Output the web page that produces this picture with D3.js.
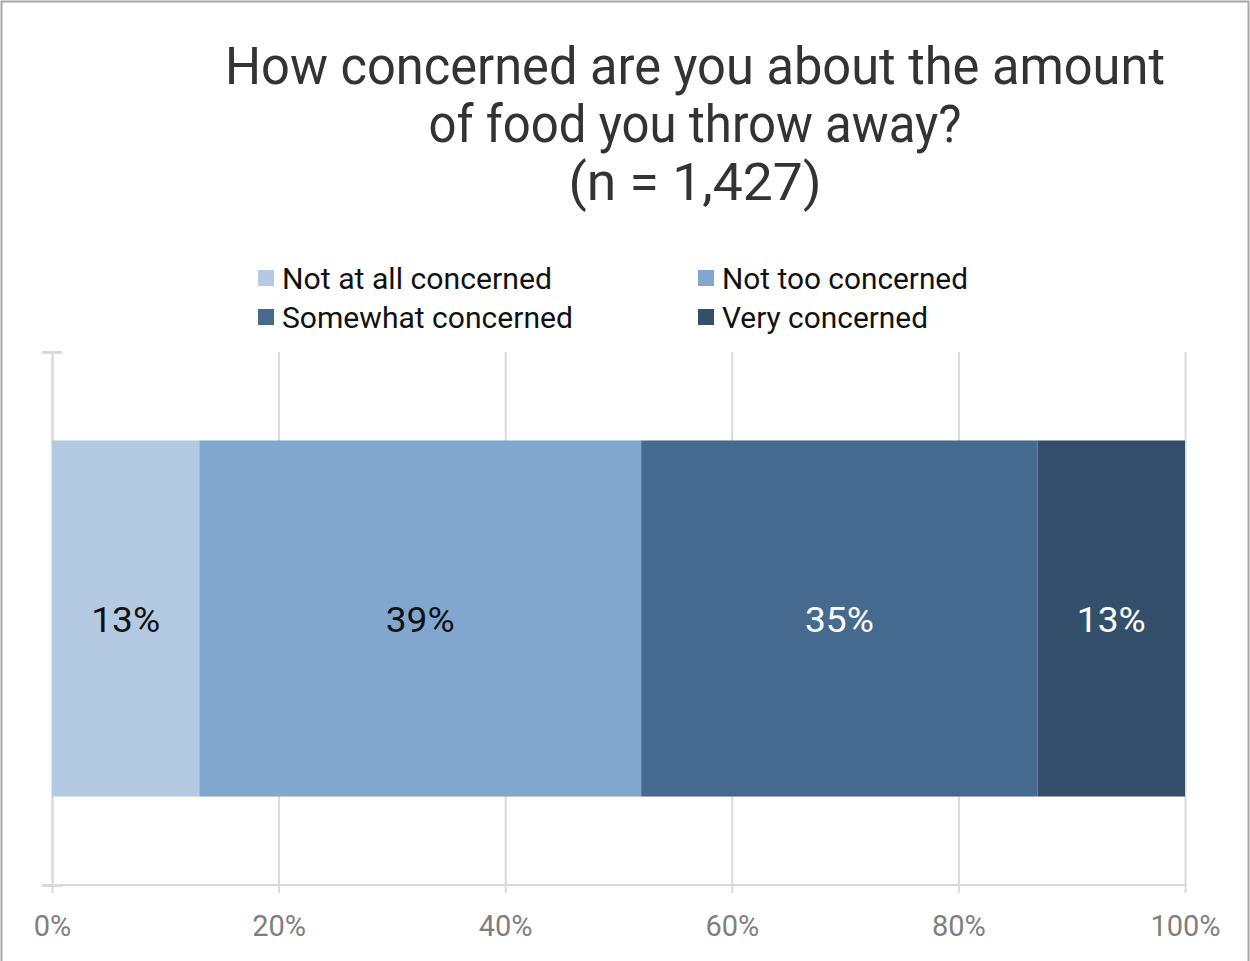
<!DOCTYPE html>
<html>
<head>
<meta charset="utf-8">
<script src="https://cdn.jsdelivr.net/npm/d3@7"></script>
<style>
  html, body { margin: 0; padding: 0; background: #fff; }
  svg { display: block; }
  text { font-family: "Roboto", "Liberation Sans", sans-serif; }
</style>
</head>
<body>
<svg id="chart" width="1250" height="961"></svg>
<script>
// Survey answers, in stacking order
const categories = ["Not at all concerned", "Not too concerned", "Somewhat concerned", "Very concerned"];
const values = [13, 39, 35, 13];
const colors = ["#B4CAE2", "#81A7CF", "#46698F", "#344F6C"];
const labelColors = ["#111111", "#111111", "#ffffff", "#ffffff"];
const tickValues = [0, 20, 40, 60, 80, 100];
const tickLabels = ["0%", "20%", "40%", "60%", "80%", "100%"];
const titleLines = ["How concerned are you about the amount", "of food you throw away?", "(n = 1,427)"];
const rowName = ["All respondents"];

const svg = d3.select("#chart");
const W = 1250, H = 961;

// outer frame
svg.append("rect")
  .attr("x", 1.5).attr("y", 1.5)
  .attr("width", W - 3).attr("height", H + 10)
  .attr("fill", "#fff").attr("stroke", "#a6a6a6").attr("stroke-width", 2);

// fit a text element to a given width
function fit(sel, width) {
  sel.each(function () {
    const len = this.getComputedTextLength();
    if (Math.abs(len - width) > 2) {
      d3.select(this).attr("textLength", width).attr("lengthAdjust", "spacingAndGlyphs");
    }
  });
}

// title
const titleWidths = [940, 533, 253];
titleLines.forEach((t, i) => {
  const el = svg.append("text")
    .attr("x", 695).attr("y", 84 + i * 58)
    .attr("text-anchor", "middle")
    .attr("font-size", 51)
    .attr("fill", "#333333")
    .text(t);
  fit(el, titleWidths[i]);
});

// plot area
const plot = { left: 52, right: 1185, top: 352, bottom: 885 };
const x = d3.scaleLinear().domain([0, 100]).range([plot.left, plot.right]);
const y = d3.scaleBand().domain(rowName).range([plot.top, plot.bottom]).paddingInner(0.199).paddingOuter(0.199);

// vertical gridlines with ticks below the baseline
const xAxis = d3.axisBottom(x).tickValues(tickValues).tickFormat((d, i) => tickLabels[i]).tickSize(-(plot.bottom - plot.top)).tickPadding(30);
const gx = svg.append("g").attr("transform", `translate(0,${plot.bottom})`).call(xAxis);
gx.select(".domain").remove();
gx.selectAll(".tick line").attr("stroke", "#d9d9d9").attr("stroke-width", 2);
gx.selectAll(".tick").append("line")
  .attr("y1", 0).attr("y2", 8)
  .attr("stroke", "#d9d9d9").attr("stroke-width", 2);
gx.selectAll(".tick text")
  .attr("font-size", 29)
  .attr("fill", "#7f7f7f")
  .attr("dy", null)
  .attr("y", 51);

// baseline
svg.append("line")
  .attr("x1", plot.left).attr("x2", plot.right)
  .attr("y1", plot.bottom).attr("y2", plot.bottom)
  .attr("stroke", "#d9d9d9").attr("stroke-width", 2);

// category axis at left
const yAxisScale = d3.scaleLinear().domain([0, 1]).range([plot.bottom, plot.top]);
const gy = svg.append("g").attr("transform", `translate(${plot.left},0)`)
  .call(d3.axisLeft(yAxisScale).tickValues([0, 1]).tickFormat("").tickSize(10).tickSizeOuter(0));
gy.select(".domain").attr("stroke", "#d9d9d9").attr("stroke-width", 2);
gy.selectAll(".tick line").attr("stroke", "#d9d9d9").attr("stroke-width", 3).attr("x2", 10).attr("x1", -10);

// stacked segments
const starts = values.map((v, i) => d3.sum(values.slice(0, i)));
const segs = categories.map((c, i) => ({ c, v: values[i], s: starts[i], i }));

svg.append("g").selectAll("rect")
  .data(segs).join("rect")
  .attr("x", d => x(d.s))
  .attr("y", y(rowName[0]))
  .attr("width", d => x(d.s + d.v) - x(d.s))
  .attr("height", y.bandwidth())
  .attr("fill", d => colors[d.i]);

svg.append("g").selectAll("text")
  .data(segs).join("text")
  .attr("x", d => x(d.s + d.v / 2))
  .attr("y", y(rowName[0]) + y.bandwidth() / 2 + 13)
  .attr("text-anchor", "middle")
  .attr("font-size", 35)
  .attr("fill", d => labelColors[d.i])
  .text(d => d.v + "%")
  .call(fit, 69);

// legend (two columns)
const legend = svg.append("g");
const legendPos = [[258, 289], [698, 289], [258, 328], [698, 328]];
const legendWidths = [270, 246, 291, 206];
segs.forEach((d, i) => {
  const [lx, ly] = legendPos[i];
  legend.append("rect")
    .attr("x", lx).attr("y", ly - 19)
    .attr("width", 16).attr("height", 16)
    .attr("fill", colors[i]);
  const t = legend.append("text")
    .attr("x", lx + 24).attr("y", ly)
    .attr("font-size", 29)
    .attr("fill", "#111111")
    .text(d.c);
  fit(t, legendWidths[i]);
});
</script>
</body>
</html>
